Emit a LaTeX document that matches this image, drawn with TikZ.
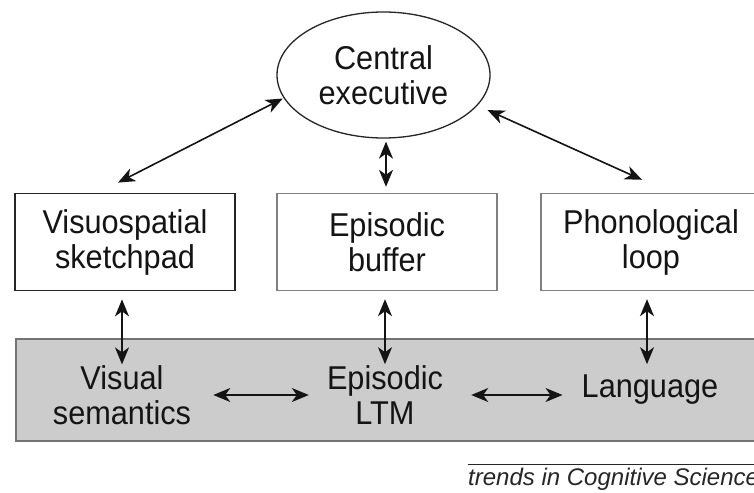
\documentclass[tikz,border=0pt]{standalone}
\usepackage{fontspec}
\setmainfont{Liberation Sans}[FakeStretch=0.93]
\newfontfamily\footfont{Liberation Sans}
\usetikzlibrary{arrows.meta,shapes.geometric}
\begin{document}
\begin{tikzpicture}[x=1pt,y=-1pt,
  lbl/.style={font=\fontsize{33}{35}\selectfont, align=center, text=black!92, inner sep=0pt},
  boxA/.style={lbl, draw=black!85, line width=1.8pt, minimum width=220pt, minimum height=97pt},
  boxB/.style={lbl, draw=black!50, line width=1.4pt, minimum width=220pt, minimum height=97pt},
  band/.style={draw=black!55, fill=black!20, line width=1.8pt, minimum width=755pt, minimum height=102pt, inner sep=0pt, anchor=north west},
  arr/.style={{Stealth[length=17pt,width=14pt,inset=5pt]}-{Stealth[length=17pt,width=14pt,inset=5pt]}, line width=1.6pt, draw=black!92},
  ]
\useasboundingbox (0,0) rectangle (754,492);
\fill[white] (0,0) rectangle (754,492);
% gray long-term memory band
\node[band] (band) at (15,338) {};
% central executive
\node[lbl, draw=black!85, line width=1.3pt, ellipse, minimum width=213pt, minimum height=126pt] (ce) at (383.5,75) {Central\\executive};
% boxes
\node[boxA] (vs) at (125,242) {Visuospatial\\sketchpad};
\node[boxB] (eb) at (387,242) {Episodic\\buffer};
\node[boxB] (pl) at (651,242) {Phonological\\loop};
% band texts
\node[lbl] (vsem) at (122,395) {Visual\\semantics};
\node[lbl] (ltm) at (385,395) {Episodic\\LTM};
\node[lbl] (lang) at (650,390) {Language};
% arrows: executive to slave systems
\draw[arr, shorten >=1pt] ([xshift=-7pt,yshift=10pt]vs.north) -- (ce.193);
\draw[arr, shorten <=11pt] (ce.-18) -- ([xshift=-9pt,yshift=13pt]pl.north);
\draw[arr] ([xshift=2.5pt,yshift=-3pt]ce.south) -- ([xshift=-1pt,yshift=6pt]eb.north);
% arrows: boxes to band
\draw[arr] ([xshift=-3pt,yshift=-8pt]vs.south) -- ([xshift=-3pt,yshift=-73pt]vs.south);
\draw[arr] ([xshift=-2pt,yshift=-8pt]eb.south) -- ([xshift=-2pt,yshift=-73pt]eb.south);
\draw[arr] ([xshift=-4pt,yshift=-8pt]pl.south) -- ([xshift=-4pt,yshift=-73pt]pl.south);
% arrows within band
\draw[arr, shorten <=22pt, shorten >=18pt] (vsem.east) -- (ltm.west);
\draw[arr, shorten <=28pt, shorten >=19pt] (ltm.east) -- (ltm.east -| lang.west);
% footer
\node[font=\footfont\fontsize{24}{27}\selectfont\itshape, anchor=base west, inner sep=0pt, text=black!85] (ft) at (468,485) {trends in Cognitive Sciences};
\draw[line width=1pt, black!85] ([yshift=3pt]ft.north west) -- ([yshift=3pt]ft.north east);
\end{tikzpicture}
\end{document}
